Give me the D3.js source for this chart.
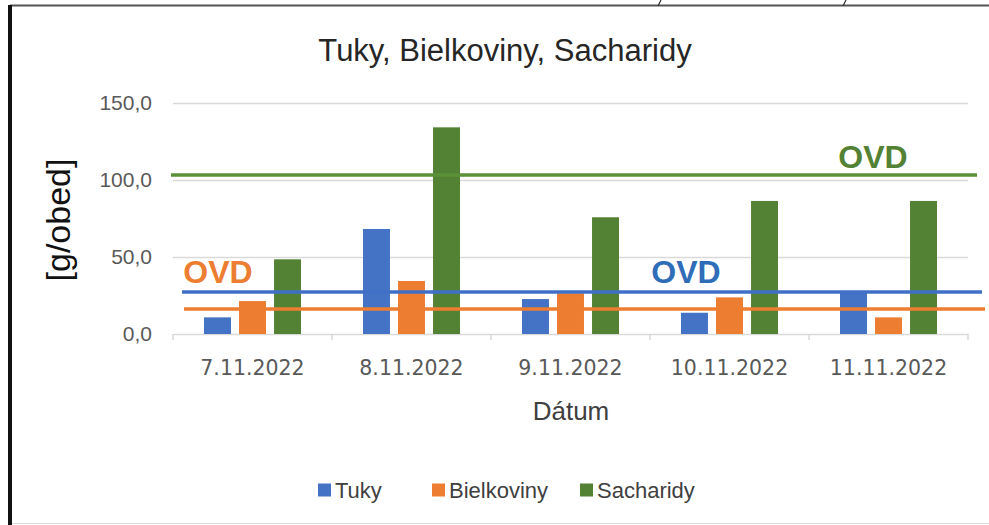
<!DOCTYPE html>
<html>
<head>
<meta charset="utf-8">
<script src="https://cdn.jsdelivr.net/npm/d3@7"></script>
<style>
  body { margin: 0; background: #fff; }
  svg { display: block; font-family: "Liberation Sans", Arial, sans-serif; }
</style>
</head>
<body>
<svg width="989" height="525"></svg>
<script>
const dates = ['7.11.2022', '8.11.2022', '9.11.2022', '10.11.2022', '11.11.2022']
const seriesNames = ['Tuky', 'Bielkoviny', 'Sacharidy']
const tuky = [10.8, 68.2, 22.7, 13.8, 27.5]
const bielkoviny = [21.4, 34.4, 26.4, 23.8, 10.8]
const sacharidy = [48.5, 134.2, 75.8, 86.4, 86.4]
const ovd = [27.3, 16.2, 103.2]   // Tuky, Bielkoviny, Sacharidy
const yTicks = [0, 50, 100, 150]
const colors = ['#4472c4', '#ed7d31', '#548235']

const values = [tuky, bielkoviny, sacharidy]

const svg = d3.select('svg')
const plotLeft = 173
const plotRight = 968
const plotTop = 103
const plotBottom = 334

const x0 = d3.scaleBand()
    .domain(dates)
    .range([plotLeft, plotRight])
const bw = x0.bandwidth()
const x1 = d3.scaleBand()
    .domain(seriesNames)
    .range([bw * 0.195, bw * 0.805])
    .paddingInner(0.23)
const y = d3.scaleLinear()
    .domain([0, 150])
    .range([plotBottom, plotTop])

const comma = d3.formatLocale({decimal: ',', thousands: ' ', grouping: [3], currency: ['', '']}).format('.1f')

// frame
svg.append('line').attr('x1', 10).attr('x2', 989).attr('y1', 5.5).attr('y2', 5.5)
    .attr('stroke', '#555').attr('stroke-width', 2)
svg.append('line').attr('x1', 10).attr('x2', 10).attr('y1', 5).attr('y2', 525)
    .attr('stroke', '#111').attr('stroke-width', 4)
svg.append('line').attr('x1', 12).attr('x2', 989).attr('y1', 523.5).attr('y2', 523.5)
    .attr('stroke', '#dcdcdc').attr('stroke-width', 1)
// little marks on the top edge
;[661, 846].forEach(px => {
    svg.append('line').attr('x1', px).attr('x2', px - 3).attr('y1', 0).attr('y2', 6)
        .attr('stroke', '#333').attr('stroke-width', 1.2)
})

// title
svg.append('text')
    .attr('x', 505).attr('y', 61)
    .attr('text-anchor', 'middle')
    .style('font-size', '31px')
    .style('fill', '#262626')
    .text('Tuky, Bielkoviny, Sacharidy')

// gridlines
svg.append('g')
    .selectAll('line')
    .data(yTicks.filter(d => d > 0))
    .enter()
    .append('line')
    .attr('x1', plotLeft).attr('x2', plotRight)
    .attr('y1', d => y(d) + 0.5).attr('y2', d => y(d) + 0.5)
    .attr('stroke', '#d9d9d9').attr('stroke-width', 1.5)

// y axis labels
const yAxis = d3.axisLeft(y)
    .tickValues(yTicks)
    .tickFormat(comma)
    .tickSize(0)
    .tickPadding(21)
svg.append('g')
    .attr('transform', `translate(${plotLeft}, 0)`)
    .call(yAxis)
    .call(g => g.select('.domain').remove())
    .selectAll('text')
    .style('font-size', '21px')
    .style('font-family', '"Liberation Sans", Arial, sans-serif')
    .style('fill', '#595959')

// x axis
const xAxis = d3.axisBottom(x0).tickSize(0).tickPadding(31)
const xg = svg.append('g')
    .attr('transform', `translate(0, ${plotBottom})`)
    .call(xAxis)
xg.select('.domain').attr('stroke', '#d9d9d9').attr('stroke-width', 1.5)
xg.selectAll('text')
    .style('font-size', '20.5px')
    .style('font-family', '"DejaVu Sans", sans-serif')
    .style('fill', '#595959')
    .attr('dy', '0.5em')
// category separator ticks
xg.selectAll('.sep')
    .data(dates.map(d => x0(d)).concat([plotRight]))
    .enter()
    .append('line')
    .attr('x1', d => d).attr('x2', d => d)
    .attr('y1', 0).attr('y2', 6)
    .attr('stroke', '#d9d9d9').attr('stroke-width', 1.5)

// bars
const groups = svg.append('g')
    .selectAll('g')
    .data(dates)
    .enter()
    .append('g')
    .attr('transform', d => `translate(${x0(d)}, 0)`)
groups.selectAll('rect')
    .data((d, i) => seriesNames.map((s, k) => ({s: s, k: k, v: values[k][i]})))
    .enter()
    .append('rect')
    .attr('x', d => x1(d.s))
    .attr('width', x1.bandwidth())
    .attr('y', d => y(d.v))
    .attr('height', d => y(0) - y(d.v))
    .attr('fill', d => colors[d.k])

// OVD reference lines
const ovdLines = [
    {k: 0, x1: 182, x2: 982, tx: 686, ty: 283},
    {k: 1, x1: 184, x2: 985, tx: 218, ty: 283},
    {k: 2, x1: 171, x2: 977, tx: 873, ty: 168}
]
const ovdColors = ['#3f6fc6', '#ed7d31', '#5a9136']
svg.append('g')
    .selectAll('line')
    .data(ovdLines)
    .enter()
    .append('line')
    .attr('x1', d => d.x1).attr('x2', d => d.x2)
    .attr('y1', d => y(ovd[d.k])).attr('y2', d => y(ovd[d.k]))
    .attr('stroke', d => ovdColors[d.k])
    .attr('stroke-width', 3.5)
svg.append('g')
    .selectAll('text')
    .data(ovdLines)
    .enter()
    .append('text')
    .attr('x', d => d.tx).attr('y', d => d.ty)
    .attr('text-anchor', 'middle')
    .style('font-size', '32px')
    .style('font-weight', 'bold')
    .style('fill', d => d.k === 0 ? '#2f6db8' : (d.k === 1 ? '#ed7d31' : '#548235'))
    .text('OVD')

// axis titles
svg.append('text')
    .attr('transform', 'translate(70, 220) rotate(-90)')
    .attr('text-anchor', 'middle')
    .style('font-size', '34px')
    .style('fill', '#111')
    .text('[g/obed]')
svg.append('text')
    .attr('x', 571).attr('y', 420)
    .attr('text-anchor', 'middle')
    .style('font-size', '26px')
    .style('fill', '#404040')
    .text('Dátum')

// legend
const legend = svg.append('g')
    .selectAll('g')
    .data(seriesNames)
    .enter()
    .append('g')
    .attr('transform', (d, i) => `translate(${[318, 432, 580][i]}, 490)`)
legend.append('rect')
    .attr('x', 0).attr('y', -6.5)
    .attr('width', 13).attr('height', 13)
    .attr('fill', (d, i) => colors[i])
legend.append('text')
    .attr('x', 17).attr('y', 0)
    .attr('dy', '0.36em')
    .style('font-size', '22px')
    .style('fill', '#404040')
    .text(d => d)
</script>
</body>
</html>
